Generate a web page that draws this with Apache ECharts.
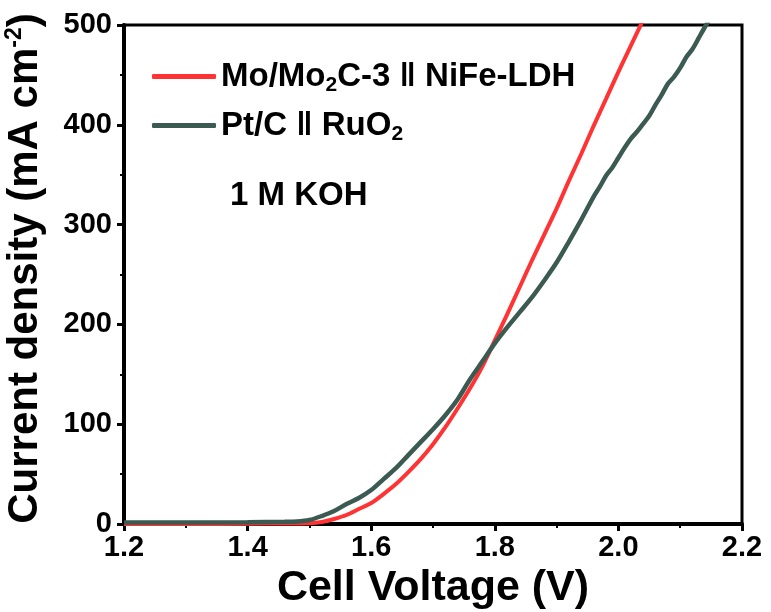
<!DOCTYPE html>
<html>
<head>
<meta charset="utf-8">
<script src="https://cdn.jsdelivr.net/npm/echarts@6/dist/echarts.min.js"></script>
<style>
  html, body { margin: 0; padding: 0; background: #fff; }
  #chart { width: 771px; height: 612px; }
</style>
</head>
<body>
<div id="chart"></div>
<script>
// ---- Data ----
const seriesNames = ['Mo/Mo2C-3 ǁ NiFe-LDH', 'Pt/C ǁ RuO2'];

const voltageRed = [1.20, 1.30, 1.40, 1.46, 1.50, 1.52, 1.54, 1.56, 1.58, 1.60, 1.62, 1.64, 1.66, 1.68, 1.70,
  1.72, 1.74, 1.76, 1.78, 1.80, 1.82, 1.84, 1.86, 1.88, 1.90, 1.92, 1.94, 1.96, 1.98, 2.00, 2.02, 2.04];
const currentRed = [0, 0, 0.3, 0.5, 0.8, 2, 5, 9, 15, 21, 30, 40, 52, 65, 80,
  97, 116, 136, 158, 184, 210, 237, 264, 290, 316, 344, 371, 399, 426, 453, 479, 505];

const voltageGreen = [1.20, 1.30, 1.40, 1.46, 1.48, 1.50, 1.52, 1.54, 1.56, 1.58, 1.60, 1.62, 1.64, 1.66, 1.68,
  1.70, 1.72, 1.74, 1.76, 1.78, 1.80, 1.82, 1.84, 1.86, 1.88, 1.90, 1.92, 1.94, 1.96, 1.97, 1.98, 1.99,
  2.00, 2.01, 2.02, 2.03, 2.04, 2.05, 2.06, 2.07, 2.08, 2.09, 2.10, 2.11, 2.12, 2.13, 2.14, 2.15];
const currentGreen = [1.5, 1.5, 1.8, 2.2, 2.5, 4, 8, 13, 20, 26, 34, 45, 56, 69, 82,
  95, 109, 125, 145, 163, 181, 197, 212, 227, 244, 262, 283, 305, 328, 338, 349, 357,
  367, 377, 386, 393, 401, 409, 420, 430, 441, 448, 457, 468, 476, 487, 498, 508];

const xTicks = { min: 1.2, max: 2.2, interval: 0.2 };
const yTicks = { min: 0, max: 500, interval: 100 };

// ---- Chart ----
const FONT = '"Liberation Sans", Arial, sans-serif';
const chart = echarts.init(document.getElementById('chart'), null, { renderer: 'canvas' });

function zip(xs, ys) { return xs.map((x, i) => [x, ys[i]]); }

const legendRich = {
  t: { fontFamily: FONT, fontWeight: 'bold', fontSize: 33, color: '#000', lineHeight: 38 },
  s: { fontFamily: FONT, fontWeight: 'bold', fontSize: 21, color: '#000', lineHeight: 15, verticalAlign: 'bottom' }
};
function legendFormatter(name) {
  if (name === seriesNames[0]) return '{t|Mo/Mo}{s|2}{t|C-3 ǁ NiFe-LDH}';
  return '{t|Pt/C ǁ RuO}{s|2}';
}
function legendCfg(name, top) {
  return {
    data: [name], left: 152, top: top, padding: 0, orient: 'vertical',
    icon: 'roundRect', itemWidth: 64, itemHeight: 5, itemGap: 0,
    formatter: legendFormatter,
    textStyle: { rich: legendRich, padding: [0, 0, 0, 0] }
  };
}

chart.setOption({
  animation: false,
  backgroundColor: '#fff',
  grid: {
    left: 124, right: 29, top: 25, bottom: 88, containLabel: false, outerBoundsMode: 'none',
    show: true, borderColor: '#000', borderWidth: 3, backgroundColor: 'transparent'
  },
  title: {
    text: '1 M KOH', left: 225, top: 174,
    textStyle: { fontFamily: FONT, fontWeight: 'bold', fontSize: 33, color: '#000' }
  },
  legend: [legendCfg(seriesNames[0], 60), legendCfg(seriesNames[1], 109)],
  xAxis: {
    type: 'value', min: xTicks.min, max: xTicks.max, interval: xTicks.interval,
    name: 'Cell Voltage (V)', nameLocation: 'middle', nameGap: 32,
    nameTextStyle: { fontFamily: FONT, fontWeight: 'bold', fontSize: 43, color: '#000' },
    axisLine: { onZero: false, lineStyle: { color: '#000', width: 4 } },
    axisTick: { show: true, inside: false, length: 7, lineStyle: { color: '#000', width: 3 } },
    minorTick: { show: true, splitNumber: 2, length: 4, lineStyle: { color: '#000', width: 2 } },
    splitLine: { show: false },
    axisLabel: {
      margin: 9, fontFamily: FONT, fontWeight: 'bold', fontSize: 29, color: '#000',
      formatter: v => v.toFixed(1)
    }
  },
  yAxis: {
    type: 'value', min: yTicks.min, max: yTicks.max, interval: yTicks.interval,
    name: '{t|Current density (mA cm}{sup|-2}{t|)}', nameLocation: 'middle', nameGap: 76,
    nameTextStyle: {
      padding: [0, 0, 0, 12],
      rich: {
        t: { fontFamily: FONT, fontWeight: 'bold', fontSize: 42, color: '#000', lineHeight: 45 },
        sup: { fontFamily: FONT, fontWeight: 'bold', fontSize: 23, color: '#000', lineHeight: 22, verticalAlign: 'top' }
      }
    },
    axisLine: { onZero: false, lineStyle: { color: '#000', width: 4 } },
    axisTick: { show: true, inside: false, length: 7, lineStyle: { color: '#000', width: 3 } },
    minorTick: { show: true, splitNumber: 2, length: 4, lineStyle: { color: '#000', width: 2 } },
    splitLine: { show: false },
    axisLabel: { margin: 12, fontFamily: FONT, fontWeight: 'bold', fontSize: 29, color: '#000' }
  },
  series: [
    {
      name: seriesNames[0], type: 'line', data: zip(voltageRed, currentRed),
      showSymbol: false, smooth: 0.3, clip: true,
      lineStyle: { color: '#ff3333', width: 4 }, itemStyle: { color: '#ff3333' }, z: 3
    },
    {
      name: seriesNames[1], type: 'line', data: zip(voltageGreen, currentGreen),
      showSymbol: false, smooth: 0.3, clip: true,
      lineStyle: { color: '#3b5a52', width: 4.5 }, itemStyle: { color: '#3b5a52' }, z: 4
    }
  ]
});
</script>
</body>
</html>
